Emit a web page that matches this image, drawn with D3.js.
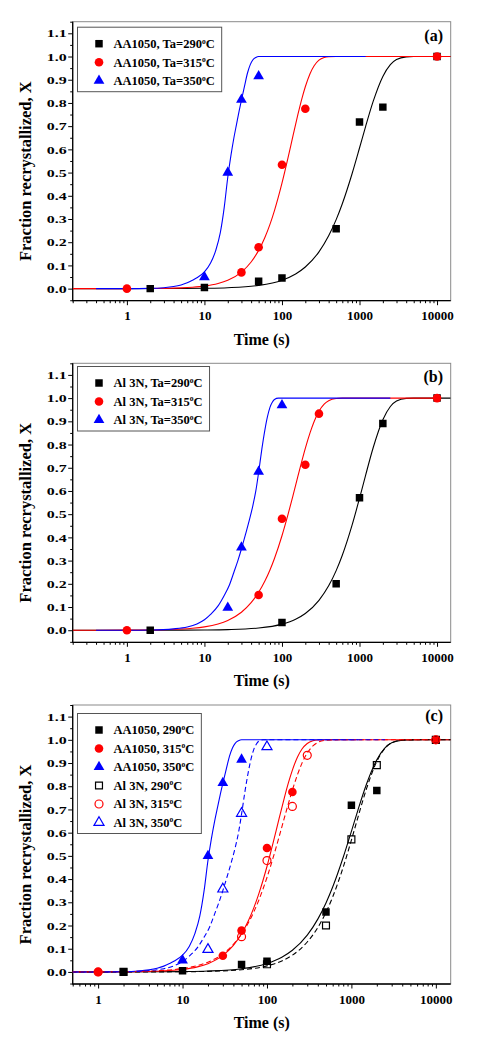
<!DOCTYPE html>
<html>
<head>
<meta charset="utf-8">
<script src="https://cdn.jsdelivr.net/npm/d3@7"></script>
<style>
body { margin: 0; background: #fff; }
text { font-family: "Liberation Serif", "Times New Roman", serif; font-weight: bold; fill: #000; }
</style>
</head>
<body>
<svg id="chart" width="477" height="1046"></svg>
<script>
// measured fractions, AA1050
var tAA290 = [2, 10, 50, 100, 500, 1000, 2000, 10000];
var xAA290 = [0, 0.005, 0.032, 0.046, 0.258, 0.718, 0.782, 1.0];
var tAA315 = [1, 30, 50, 100, 200, 10000];
var xAA315 = [0, 0.07, 0.178, 0.534, 0.775, 1.0];
var tAA350 = [10, 20, 30, 50];
var xAA350 = [0.05, 0.5, 0.814, 0.915];

// measured fractions, Al 3N
var tAl290 = [2, 100, 500, 1000, 2000, 10000];
var xAl290 = [0, 0.033, 0.2, 0.571, 0.891, 1.0];
var tAl315 = [1, 50, 100, 200, 300, 10000];
var xAl315 = [0, 0.152, 0.48, 0.713, 0.933, 1.0];
var tAl350 = [20, 30, 50, 100];
var xAl350 = [0.097, 0.357, 0.683, 0.97];

// fitted curves [t, X]
var fitAA290 = [[0.2,0],[1,0.0001],[5,0.0006],[10,0.0015],[20,0.0039],[50,0.0139],[100,0.0363],[150,0.0633],[200,0.0932],[300,0.1584],[400,0.2275],[500,0.2972],[600,0.3658],[800,0.494],[1000,0.6058],[1200,0.6993],[1500,0.8065],[2000,0.9143],[2500,0.9652],[3000,0.9869],[4000,0.9985],[5000,0.9999],[7000,1],[15000,1]];
var fitAA315 = [[0.2,0],[1,0.0002],[3,0.0013],[5,0.0032],[7,0.0058],[10,0.0107],[15,0.0217],[20,0.0356],[30,0.0711],[40,0.1148],[50,0.1648],[60,0.2195],[70,0.277],[80,0.3364],[100,0.4543],[120,0.5653],[140,0.6646],[160,0.7481],[180,0.8164],[200,0.8696],[230,0.9259],[260,0.9603],[300,0.9842],[350,0.9956],[400,0.9989],[500,1],[15000,1]];
var fitAA350 = [[0.4,0],[1,0],[2,0.001],[3,0.004],[4,0.009],[5,0.016],[6,0.025],[7,0.036],[8,0.047],[10,0.072],[12,0.11],[14,0.165],[16,0.24],[18,0.35],[20,0.48],[22,0.575],[24,0.65],[26,0.71],[28,0.765],[30,0.812],[33,0.875],[36,0.93],[39,0.965],[42,0.985],[46,0.996],[50,1],[1200,1]];
var fitAl290 = [[0.2,0],[2,0.0001],[5,0.0003],[10,0.0008],[20,0.0024],[50,0.0093],[100,0.0262],[150,0.0476],[200,0.0723],[300,0.1289],[400,0.1913],[500,0.2569],[600,0.3231],[800,0.4516],[1000,0.5681],[1200,0.6684],[1500,0.7862],[2000,0.907],[2500,0.9638],[3000,0.9873],[4000,0.9988],[5000,0.9999],[7000,1],[15000,1]];
var fitAl315 = [[0.2,0],[1,0.0004],[3,0.0023],[5,0.005],[7,0.0084],[10,0.0146],[15,0.0272],[20,0.0422],[30,0.0776],[40,0.1186],[50,0.1634],[60,0.2108],[70,0.2596],[80,0.3091],[100,0.407],[120,0.5],[140,0.5853],[160,0.6613],[180,0.7273],[200,0.7835],[230,0.8504],[260,0.8996],[300,0.9432],[350,0.9738],[400,0.9887],[500,0.9982],[600,0.9998],[700,1],[10000,1]];
var fitAl350 = [[0.4,0],[1,0],[2,0.001],[4,0.006],[6,0.014],[8,0.027],[10,0.045],[12,0.068],[15,0.105],[18,0.15],[21,0.195],[24,0.25],[27,0.3],[30,0.35],[34,0.415],[38,0.475],[42,0.535],[46,0.6],[50,0.68],[55,0.78],[60,0.86],[65,0.92],[70,0.96],[75,0.982],[80,0.994],[90,1],[2500,1]];

var yTicks = [0, 0.1, 0.2, 0.3, 0.4, 0.5, 0.6, 0.7, 0.8, 0.9, 1.0, 1.1];
var xTicks = [1, 10, 100, 1000, 10000];

var BLACK = "#000", RED = "#ff0000", BLUE = "#0000ff";

var svg = d3.select("#chart");

function zip(ts, xs){ return ts.map(function(t, i){ return [t, xs[i]]; }); }

function addLabel(sel, name){
	sel.append("tspan").text(name);
	sel.append("tspan").attr("dy", -4.5).attr("font-size", 7.5).text("o");
	sel.append("tspan").attr("dy", 4.5).text("C");
}

function drawPanel(p){
	var left = 72.7, right = 450.7, top = p.top, bottom = p.top + 279;
	var x = d3.scaleLog().domain([p.xmin, 15000]).range([left, right]);
	var y = d3.scaleLinear().domain([-0.052, 1.15]).range([bottom, top]);
	var g = svg.append("g");

	var clipId = "clip" + p.tag;
	g.append("clipPath").attr("id", clipId).append("rect")
		.attr("x", left).attr("y", top).attr("width", right - left).attr("height", bottom - top);

	// frame (top/right grey)
	g.append("rect").attr("x", left).attr("y", top).attr("width", right - left).attr("height", bottom - top)
		.attr("fill", "none").attr("stroke", "#8a8a8a").attr("stroke-width", 1);

	// minor ticks
	var minorY = d3.range(-0.05, 1.16, 0.1).filter(function(v){ return v >= -0.052; });
	g.append("g").attr("transform", "translate(" + left + ",0)")
		.call(d3.axisLeft(y).tickValues(minorY).tickSize(2.5).tickFormat(""))
		.call(function(a){ a.select(".domain").remove(); });
	var minorX = [];
	[0.1, 1, 10, 100, 1000, 10000].forEach(function(d){
		for (var k = 2; k <= 9; k++){ var v = d * k; if (v >= p.xmin && v <= 15000) minorX.push(v); }
	});
	g.append("g").attr("transform", "translate(0," + bottom + ")")
		.call(d3.axisBottom(x).tickValues(minorX).tickSize(2.5).tickFormat(""))
		.call(function(a){ a.select(".domain").remove(); });

	// major axes
	var ya = g.append("g").attr("transform", "translate(" + left + ",0)")
		.call(d3.axisLeft(y).tickValues(yTicks).tickSize(4.5).tickPadding(1.5).tickFormat(d3.format(".1f")));
	ya.select(".domain").remove();
	// y labels in the figure are drawn wide
	ya.selectAll("text").attr("font-size", 11.4).attr("x", -6 / 1.4).attr("transform", "scale(1.4,1)");
	var xa = g.append("g").attr("transform", "translate(0," + bottom + ")")
		.call(d3.axisBottom(x).tickValues(xTicks).tickSize(4.5).tickPadding(6).tickFormat(d3.format("d")));
	xa.select(".domain").remove();
	xa.selectAll("text").attr("font-size", 13);
	g.selectAll(".tick line").attr("stroke", "#000").attr("stroke-width", 1);
	g.append("line").attr("x1", left).attr("x2", left).attr("y1", top).attr("y2", bottom + 0.5)
		.attr("stroke", "#000").attr("stroke-width", 1.3);
	g.append("line").attr("x1", left).attr("x2", right).attr("y1", bottom).attr("y2", bottom)
		.attr("stroke", "#000").attr("stroke-width", 1.3);

	// curves
	var line = d3.line().x(function(d){ return x(d[0]); }).y(function(d){ return y(d[1]); }).curve(d3.curveMonotoneX);
	var plot = g.append("g").attr("clip-path", "url(#" + clipId + ")");
	p.curves.forEach(function(c){
		plot.append("path").attr("d", line(c.data)).attr("fill", "none")
			.attr("stroke", c.color).attr("stroke-width", 1.1)
			.attr("stroke-dasharray", c.dash ? "5,3" : null);
	});

	// markers
	p.points.forEach(function(s){
		plot.selectAll(null).data(s.data).enter().append("path")
			.attr("d", d3.symbol().type(s.shape).size(s.size))
			.attr("transform", function(d){ return "translate(" + x(d[0]) + "," + y(d[1]) + ")"; })
			.attr("fill", s.hollow ? "none" : s.color)
			.attr("stroke", s.color).attr("stroke-width", s.hollow ? 1.2 : 0);
	});

	// legend
	var lg = g.append("g");
	var rows = p.points;
	var rowY = function(i){ return top + p.legTop + i * 18.5; };
	var box = lg.append("rect").attr("fill", "#fff").attr("stroke", "#555").attr("stroke-width", 1);
	var maxEnd = 0;
	rows.forEach(function(s, i){
		lg.append("path").attr("d", d3.symbol().type(s.shape).size(s.size))
			.attr("transform", "translate(99," + rowY(i) + ")")
			.attr("fill", s.hollow ? "none" : s.color)
			.attr("stroke", s.color).attr("stroke-width", s.hollow ? 1.2 : 0);
		var t = lg.append("text").attr("x", 113.5).attr("y", rowY(i) + 4.4).attr("font-size", 12.5);
		addLabel(t, s.label);
		maxEnd = Math.max(maxEnd, t.node().getBBox().x + t.node().getBBox().width);
	});
	box.attr("x", 77.5).attr("y", rowY(0) - 16.5)
		.attr("width", maxEnd + 7 - 77.5)
		.attr("height", rowY(rows.length - 1) - rowY(0) + 27.5);

	// panel tag and axis titles
	g.append("text").attr("x", 443).attr("y", top + p.tagY).attr("text-anchor", "end")
		.attr("font-size", 16).text("(" + p.tag + ")");
	g.append("text").attr("x", (left + right) / 2).attr("y", bottom + 44).attr("text-anchor", "middle")
		.attr("font-size", 16).text("Time (s)");
	g.append("text").attr("transform", "translate(31," + ((top + bottom) / 2 + 10) + ") rotate(-90)")
		.attr("text-anchor", "middle").attr("font-size", 16.5).text("Fraction recrystallized, X");
}

var SQ = d3.symbolSquare, CI = d3.symbolCircle, TR = d3.symbolTriangle;

drawPanel({
	tag: "a", top: 21.7, xmin: 0.2, legTop: 22, tagY: 19,
	curves: [
		{ data: fitAA290, color: BLACK }, { data: fitAA315, color: RED }, { data: fitAA350, color: BLUE }
	],
	points: [
		{ data: zip(tAA290, xAA290), color: BLACK, shape: SQ, size: 56, label: "AA1050, Ta=290" },
		{ data: zip(tAA315, xAA315), color: RED, shape: CI, size: 58, label: "AA1050, Ta=315" },
		{ data: zip(tAA350, xAA350), color: BLUE, shape: TR, size: 50, label: "AA1050, Ta=350" }
	]
});

drawPanel({
	tag: "b", top: 363.3, xmin: 0.2, legTop: 19.7, tagY: 19,
	curves: [
		{ data: fitAl290, color: BLACK }, { data: fitAl315, color: RED }, { data: fitAl350, color: BLUE }
	],
	points: [
		{ data: zip(tAl290, xAl290), color: BLACK, shape: SQ, size: 56, label: "Al 3N, Ta=290" },
		{ data: zip(tAl315, xAl315), color: RED, shape: CI, size: 58, label: "Al 3N, Ta=315" },
		{ data: zip(tAl350, xAl350), color: BLUE, shape: TR, size: 50, label: "Al 3N, Ta=350" }
	]
});

drawPanel({
	tag: "c", top: 705, xmin: 0.5, legTop: 25, tagY: 16,
	curves: [
		{ data: fitAA290, color: BLACK }, { data: fitAA315, color: RED }, { data: fitAA350, color: BLUE },
		{ data: fitAl290, color: BLACK, dash: true }, { data: fitAl315, color: RED, dash: true }, { data: fitAl350, color: BLUE, dash: true }
	],
	points: [
		{ data: zip(tAA290, xAA290), color: BLACK, shape: SQ, size: 56, label: "AA1050, 290" },
		{ data: zip(tAA315, xAA315), color: RED, shape: CI, size: 58, label: "AA1050, 315" },
		{ data: zip(tAA350, xAA350), color: BLUE, shape: TR, size: 50, label: "AA1050, 350" },
		{ data: zip(tAl290, xAl290), color: BLACK, shape: SQ, size: 48, hollow: true, label: "Al 3N, 290" },
		{ data: zip(tAl315, xAl315), color: RED, shape: CI, size: 50, hollow: true, label: "Al 3N, 315" },
		{ data: zip(tAl350, xAl350), color: BLUE, shape: TR, size: 44, hollow: true, label: "Al 3N, 350" }
	]
});
</script>
</body>
</html>
